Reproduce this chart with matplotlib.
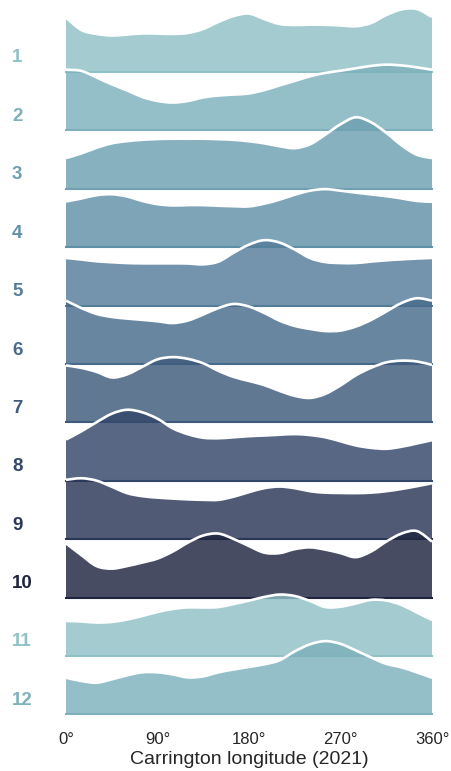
import numpy as np
import matplotlib
matplotlib.use("Agg")
import matplotlib.pyplot as plt
from matplotlib.path import Path
from matplotlib.patches import PathPatch
import seaborn as sns

plt.rcParams["font.family"] = ["Liberation Sans", "DejaVu Sans"]

# Carrington longitude grid (deg) and monthly density (x 1e-3 per degree)
longitude = np.arange(0, 361, 15)
months = [1, 2, 3, 4, 5, 6, 7, 8, 9, 10, 11, 12]

dens_01 = [3.40, 2.63, 2.38, 2.28, 2.34, 2.41, 2.40, 2.38, 2.44, 2.69, 3.13, 3.50, 3.65,
           3.31, 3.00, 2.94, 2.96, 2.95, 2.91, 2.86, 3.06, 3.56, 3.91, 3.94, 3.44]
dens_02 = [3.79, 3.72, 3.31, 2.88, 2.50, 2.09, 1.84, 1.74, 1.84, 2.06, 2.18, 2.24, 2.31,
           2.52, 2.81, 3.09, 3.38, 3.59, 3.73, 3.88, 4.03, 4.11, 4.06, 3.94, 3.79]
dens_03 = [1.92, 2.21, 2.56, 2.84, 2.98, 3.06, 3.11, 3.13, 3.13, 3.13, 3.10, 3.06, 2.97,
           2.84, 2.66, 2.54, 2.78, 3.38, 4.03, 4.47, 4.16, 3.50, 2.72, 2.13, 1.92]
dens_04 = [2.86, 3.04, 3.25, 3.31, 3.17, 2.89, 2.69, 2.61, 2.63, 2.63, 2.59, 2.56, 2.55,
           2.72, 2.97, 3.28, 3.53, 3.63, 3.53, 3.41, 3.30, 3.19, 3.05, 2.89, 2.84]
dens_05 = [2.98, 2.88, 2.77, 2.71, 2.66, 2.64, 2.64, 2.64, 2.63, 2.58, 2.75, 3.31, 3.81,
           4.09, 3.94, 3.50, 2.97, 2.72, 2.66, 2.66, 2.75, 2.83, 2.89, 2.94, 2.98]
dens_06 = [3.96, 3.50, 3.13, 2.94, 2.84, 2.76, 2.67, 2.56, 2.72, 3.09, 3.50, 3.75, 3.59,
           3.19, 2.71, 2.38, 2.19, 2.06, 2.09, 2.34, 2.75, 3.28, 3.81, 4.11, 3.96]
dens_07 = [3.56, 3.41, 3.16, 2.81, 3.00, 3.47, 3.94, 4.08, 3.97, 3.69, 3.22, 2.84, 2.59,
           2.33, 1.97, 1.66, 1.53, 1.78, 2.31, 2.94, 3.41, 3.75, 3.86, 3.81, 3.59]
dens_08 = [2.58, 3.09, 3.66, 4.19, 4.44, 4.28, 3.88, 3.28, 2.91, 2.69, 2.66, 2.72, 2.79,
           2.83, 2.88, 2.92, 2.86, 2.72, 2.47, 2.21, 2.06, 2.00, 2.13, 2.33, 2.54]
dens_09 = [3.71, 3.81, 3.66, 3.28, 2.88, 2.69, 2.60, 2.54, 2.49, 2.46, 2.46, 2.66, 2.94,
           3.19, 3.29, 3.19, 3.00, 2.91, 2.89, 2.88, 2.91, 3.00, 3.14, 3.31, 3.50]
dens_10 = [3.39, 2.66, 1.97, 1.81, 1.97, 2.19, 2.44, 2.88, 3.44, 3.88, 4.00, 3.66, 3.22,
           2.81, 2.78, 3.03, 3.14, 3.00, 2.78, 2.53, 2.88, 3.50, 4.00, 4.16, 3.50]
dens_11 = [2.19, 2.16, 2.09, 2.13, 2.28, 2.50, 2.75, 2.94, 3.04, 3.03, 3.06, 3.25, 3.46,
           3.69, 3.84, 3.75, 3.44, 3.06, 3.08, 3.28, 3.51, 3.47, 3.19, 2.72, 2.25]
dens_12 = [2.29, 2.09, 1.98, 2.19, 2.44, 2.63, 2.63, 2.50, 2.31, 2.38, 2.63, 2.81, 2.97,
           3.13, 3.38, 3.94, 4.38, 4.58, 4.41, 4.00, 3.56, 3.16, 2.94, 2.63, 2.29]

densities = [dens_01, dens_02, dens_03, dens_04, dens_05, dens_06,
             dens_07, dens_08, dens_09, dens_10, dens_11, dens_12]

tick_pos = [0, 90, 180, 270, 360]
tick_labels = ["0°", "90°", "180°", "270°", "360°"]

pal = sns.cubehelix_palette(10, rot=-.25, light=.7)


def smooth_path(x, y):
    # Catmull-Rom through the points, written as cubic Bezier segments
    x = np.asarray(x, float)
    y = np.asarray(y, float)
    px = np.concatenate([[x[0]], x, [x[-1]]])
    py = np.concatenate([[y[0]], y, [y[-1]]])
    verts = [(x[0], y[0])]
    codes = [Path.MOVETO]
    for i in range(1, len(px) - 2):
        c1 = (px[i] + (px[i + 1] - px[i - 1]) / 6, py[i] + (py[i + 1] - py[i - 1]) / 6)
        c2 = (px[i + 1] - (px[i + 2] - px[i]) / 6, py[i + 1] - (py[i + 2] - py[i]) / 6)
        verts += [c1, c2, (px[i + 1], py[i + 1])]
        codes += [Path.CURVE4] * 3
    return verts, codes


W, H = 451, 771
fig = plt.figure(figsize=(W / 100, H / 100), dpi=100)

x0, x1 = 66, 432
row_gap = 58.4
first_base = 72
ax_h = 80  # px, with 16 px per density unit

for i, (month, dens) in enumerate(zip(months, densities)):
    color = pal[i % len(pal)]
    base = first_base + row_gap * i
    ax = fig.add_axes([x0 / W, (H - base) / H, (x1 - x0) / W, ax_h / H])
    ax.patch.set_visible(False)
    ax.set_xlim(0, 360)
    ax.set_ylim(0, ax_h / 16)

    verts, codes = smooth_path(longitude, dens)
    area = Path([(0, 0)] + verts + [(360, 0), (0, 0)],
                [Path.MOVETO] + [Path.LINETO] + codes[1:] + [Path.LINETO, Path.CLOSEPOLY])
    ax.add_patch(PathPatch(area, facecolor=color, edgecolor="none", alpha=0.82, clip_on=False))
    ax.add_patch(PathPatch(Path(verts, codes), facecolor="none", edgecolor="white",
                           lw=1.9, clip_on=False))
    ax.axhline(0, color=color, lw=1.5, clip_on=False)

    fig.text(12 / W, (H - base + 14) / H, str(month), color=color, fontweight="bold",
             fontsize=13.5, ha="left", va="center")

    for s in ax.spines.values():
        s.set_visible(False)
    ax.set_yticks([])
    if month == months[-1]:
        ax.set_xticks(tick_pos)
        ax.set_xticklabels(tick_labels, fontsize=12, color="#262626")
        ax.tick_params(axis="x", length=0, pad=12.5)
        ax.set_xlabel("Carrington longitude (2021)", fontsize=14, color="#262626", labelpad=3)
    else:
        ax.set_xticks([])

fig.savefig("out.png", dpi=100)
